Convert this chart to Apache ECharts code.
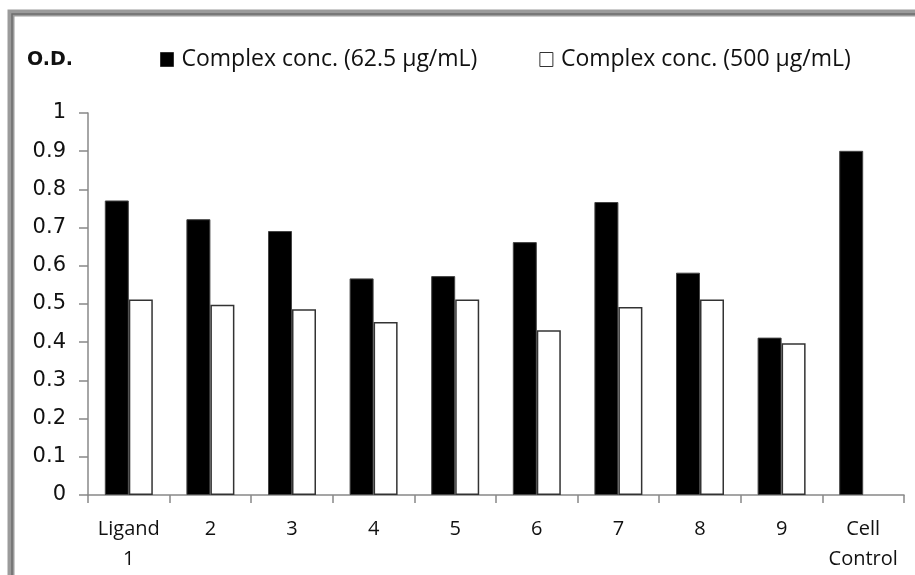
<!DOCTYPE html>
<html>
<head>
<meta charset="utf-8">
<script src="https://cdn.jsdelivr.net/npm/echarts@6/dist/echarts.min.js"></script>
<style>
html,body{margin:0;padding:0;background:#fff;}
#chart{width:915px;height:575px;}
</style>
</head>
<body>
<div id="chart"></div>
<script>
var categories = ['Ligand\n1', '2', '3', '4', '5', '6', '7', '8', '9', 'Cell\nControl'];
var seriesNames = ['Complex conc. (62.5 µg/mL)', 'Complex conc. (500 µg/mL)'];
var lowConc = [0.771, 0.722, 0.691, 0.567, 0.573, 0.662, 0.767, 0.582, 0.412, 0.901];
var highConc = [0.512, 0.498, 0.486, 0.453, 0.512, 0.431, 0.492, 0.512, 0.397, null];
var yTicks = [0, 0.1, 0.2, 0.3, 0.4, 0.5, 0.6, 0.7, 0.8, 0.9, 1];

var labelFont = 'Open Sans';
var chart = echarts.init(document.getElementById('chart'), null, {renderer: 'canvas'});
chart.setOption({
  animation: false,
  backgroundColor: '#ffffff',
  graphic: [
    {type: 'rect', silent: true, z: 100,
     shape: {x: 11, y: 13, width: 1200, height: 1200},
     style: {fill: 'none', stroke: '#9b9b9b', lineWidth: 7}},
    {type: 'rect', silent: true, z: 101,
     shape: {x: 12, y: 14, width: 1200, height: 1200},
     style: {fill: 'none', stroke: '#6e6e6e', lineWidth: 1.5}},
    {type: 'text', left: 27, top: 51,
     style: {text: 'O.D.', font: 'bold 19px "DejaVu Sans"', fill: '#111'}}
  ],
  legend: {
    left: 155, top: 43,
    itemWidth: 13, itemHeight: 14,
    itemGap: 62,
    selectedMode: false,
    textStyle: {fontFamily: labelFont, fontSize: 23, color: '#111', padding: [0, 0, 0, 3]},
    data: [
      {name: seriesNames[0], icon: 'rect', itemStyle: {color: '#000', borderColor: '#333', borderWidth: 1}},
      {name: seriesNames[1], icon: 'rect', itemStyle: {color: '#fff', borderColor: '#333', borderWidth: 1}}
    ]
  },
  grid: {left: 88, right: 11, top: 113, bottom: 80, containLabel: false},
  xAxis: {
    type: 'category',
    data: categories,
    boundaryGap: true,
    axisLine: {lineStyle: {color: '#888', width: 1.5}},
    axisTick: {show: true, alignWithLabel: false, length: 8, lineStyle: {color: '#888', width: 1.5}},
    axisLabel: {fontFamily: labelFont, fontSize: 20, color: '#111', margin: 19, lineHeight: 30, interval: 0}
  },
  yAxis: {
    type: 'value',
    min: 0, max: 1, interval: 0.1,
    splitLine: {show: false},
    axisLine: {show: true, lineStyle: {color: '#888', width: 1.5}},
    axisTick: {show: true, length: 9, lineStyle: {color: '#888', width: 1.5}},
    axisLabel: {
      fontFamily: 'DejaVu Sans', fontSize: 21, color: '#111', margin: 22,
      formatter: function (v) {
        var t = yTicks.find(function (k) { return Math.abs(k - v) < 1e-6; });
        if (t === undefined) return '';
        return (t === 0 || t === 1) ? String(t) : t.toFixed(1);
      }
    }
  },
  series: [
    {
      name: seriesNames[0], type: 'bar', data: lowConc,
      barWidth: 24, barGap: '0%',
      itemStyle: {color: '#000', borderColor: '#444', borderWidth: 1}
    },
    {
      name: seriesNames[1], type: 'bar', data: highConc,
      barWidth: 24, barGap: '0%',
      itemStyle: {color: '#fff', borderColor: '#333', borderWidth: 1.5}
    }
  ]
});
</script>
</body>
</html>
